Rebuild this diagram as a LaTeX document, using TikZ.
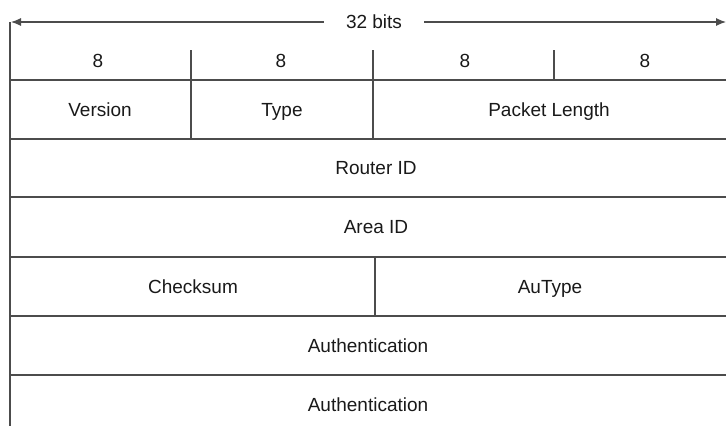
\documentclass[tikz,border=0pt]{standalone}
\usepackage{fontspec}
\setmainfont{Liberation Sans}
\usepackage{tikz}
\usetikzlibrary{arrows.meta}
\tikzstyle{field}=[inner sep=0pt,text height=13.5pt,text depth=0pt,font=\fontsize{19}{19}\selectfont,text=black!90]
\tikzstyle{rule}=[draw=black!70,line width=1.1pt]

\begin{document}
\begin{tikzpicture}[x=1pt,y=-1pt]
      \useasboundingbox (0,0) rectangle (726,426);
      \tikzset{span/.style = {rule,-{Latex[length=10pt,width=8pt]}}}
      % width arrow
      \coordinate (l) at (11,22);
      \coordinate (r) at (726,22);
      \node[field,inner xsep=22pt] (bits) at (374,22) {32 bits};
      \draw[span] (bits) to (l);
      \draw[span] (bits) to (r);
      % grid
      \draw[rule] (10,22) -- (10,426);
      \foreach \y in {80,139,197,257,316,375}
        \draw[rule] (10,\y) -- (726,\y);
      \foreach \x in {191,373,554}
        \draw[rule] (\x,50) -- (\x,80);
      \foreach \x in {191,373}
        \draw[rule] (\x,80) -- (\x,139);
      \draw[rule] (375,257) -- (375,316);
      % octets
      \node[field] (o1) at (98,61) {8};
      \node[field] (o2) at (281,61) {8};
      \node[field] (o3) at (465,61) {8};
      \node[field] (o4) at (645,61) {8};
      % fields
      \node[field] (version) at (100,110) {Version};
      \node[field] (type) at (282,110) {Type};
      \node[field] (length) at (549,110) {Packet Length};
      \node[field] (router) at (376,168) {Router ID};
      \node[field] (area) at (376,227) {Area ID};
      \node[field] (checksum) at (193,287) {Checksum};
      \node[field] (autype) at (550,287) {AuType};
      \node[field] (auth1) at (368,346) {Authentication};
      \node[field] (auth2) at (368,405) {Authentication};
    \end{tikzpicture}
\end{document}
